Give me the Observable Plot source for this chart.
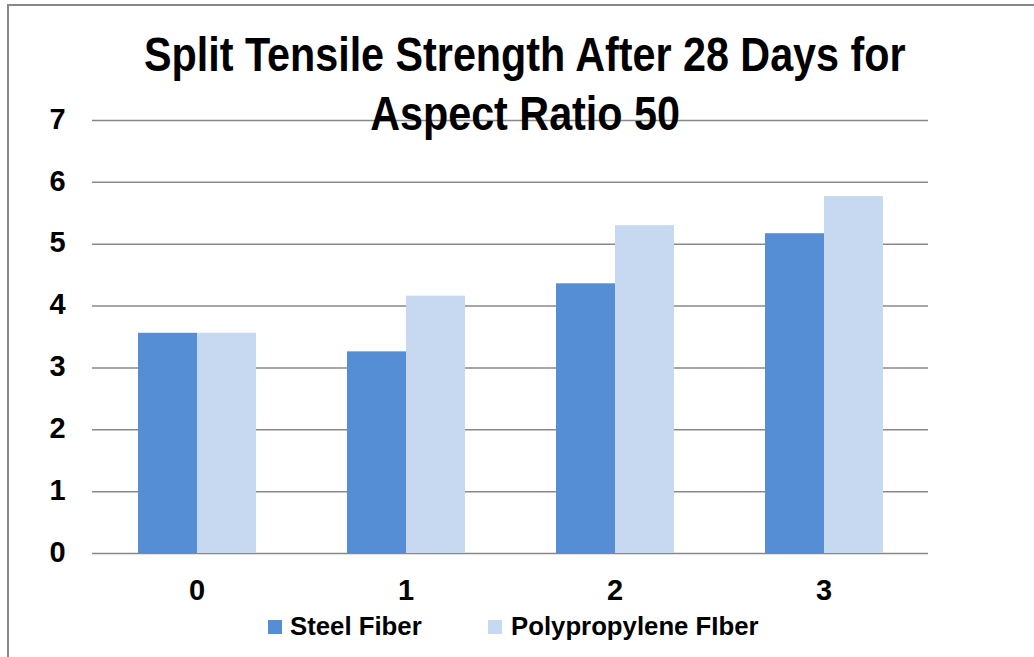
<!DOCTYPE html>
<html><head><meta charset="utf-8">
<script src="https://cdn.jsdelivr.net/npm/d3@7"></script>
<script src="https://cdn.jsdelivr.net/npm/@observablehq/plot@0.6"></script>
<style>
body{margin:0;background:#fff;}
#wrap{position:relative;width:1034px;height:657px;overflow:hidden;font-family:"Liberation Sans",Arial,sans-serif;font-weight:bold;}
#frame{position:absolute;left:7px;top:4px;width:1040px;height:700px;border:2px solid #888;box-sizing:border-box;}
#title{position:absolute;left:25px;width:1000px;top:25px;text-align:center;font-size:48px;line-height:59px;color:#000;}
#title span{display:inline-block;transform:scaleX(0.86);transform-origin:center;white-space:nowrap;}
.sw{position:absolute;width:14px;height:14px;}
.lt{position:absolute;font-size:25px;line-height:32px;transform:scaleX(1.03);transform-origin:left center;white-space:nowrap;}
#chart{position:absolute;left:0;top:0;}
</style></head>
<body><div id="wrap"><div id="frame"></div><div id="chart"></div>
<div id="title"><span>Split Tensile Strength After 28 Days for</span><br><span>Aspect Ratio 50</span></div>
</div>
<script>
const categories = ["0", "1", "2", "3"];
const seriesNames = ["Steel Fiber", "Polypropylene FIber"];
const steelFiber = [3.56, 3.26, 4.36, 5.17];
const polypropyleneFiber = [3.56, 4.16, 5.30, 5.77];
const yTicks = [0, 1, 2, 3, 4, 5, 6, 7];
const colors = ["#558ed5", "#c6d9f1"];

const data = [];
categories.forEach((c, i) => {
  data.push({cat: c, series: seriesNames[0], value: steelFiber[i]});
  data.push({cat: c, series: seriesNames[1], value: polypropyleneFiber[i]});
});

const chart = Plot.plot({
  width: 1034, height: 657,
  marginTop: 120, marginBottom: 104, marginLeft: 91, marginRight: 106,
  style: {fontFamily: '"Liberation Sans",Arial,sans-serif', fontWeight: "bold", fontSize: "29px", background: "transparent"},
  fx: {domain: categories, padding: 0, label: null, axis: null},
  x: {domain: seriesNames, paddingInner: 0, paddingOuter: 0.77, axis: null},
  y: {domain: [0, 7], label: null},
  color: {domain: seriesNames, range: colors},
  marks: [
    Plot.gridY(yTicks, {stroke: "#888", strokeOpacity: 1, strokeWidth: 1.5}),
    Plot.barY(data, {fx: "cat", x: "series", y: "value", fill: "series"}),
    Plot.axisY(yTicks, {tickSize: 0, tickPadding: 35, fontSize: 29, fill: "#000", stroke: "#888", line: true, label: null, textAnchor: "middle", dy: -1, tickFormat: d3.format("d")}),
    Plot.axisFx({anchor: "bottom", tickSize: 0, tickPadding: 26, fontSize: 29, fill: "#000", label: null})
  ]
});
document.getElementById("chart").appendChild(chart);

const wrap = document.getElementById("wrap");
const swX = [268, 488], txtX = [290, 511];
seriesNames.forEach((s, i) => {
  const sw = document.createElement("div"); sw.className = "sw";
  sw.style.background = colors[i]; sw.style.left = swX[i] + "px"; sw.style.top = "620px";
  const t = document.createElement("div"); t.className = "lt"; t.textContent = s;
  t.style.left = txtX[i] + "px"; t.style.top = "610px";
  wrap.appendChild(sw); wrap.appendChild(t);
});
</script></body></html>
